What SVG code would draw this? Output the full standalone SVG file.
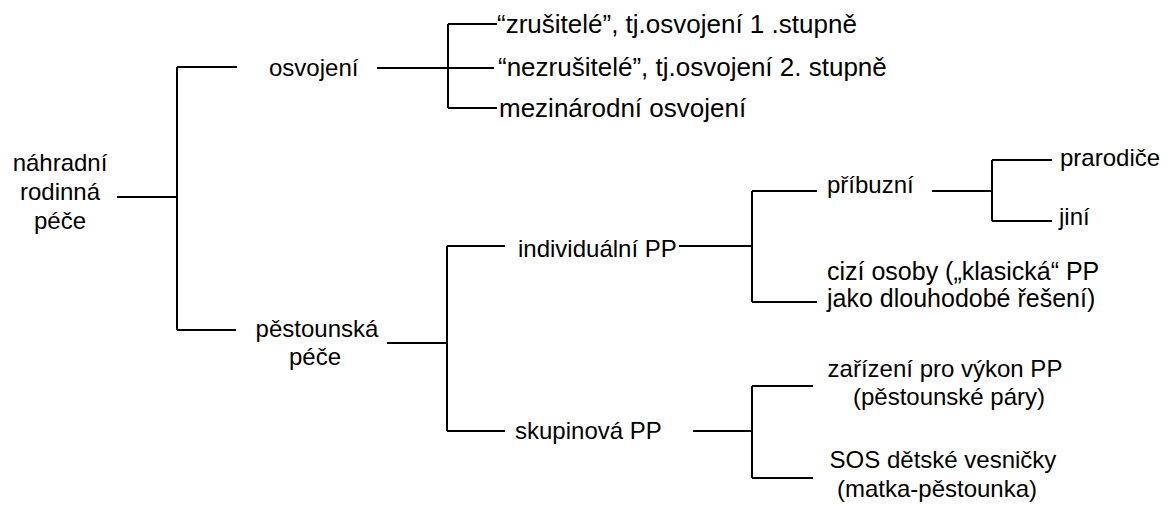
<svg xmlns="http://www.w3.org/2000/svg" width="1169" height="506" viewBox="0 0 1169 506">
<style>
text{font-family:"Liberation Sans",Arial,sans-serif;font-size:24px;fill:#000}
.m{text-anchor:middle}
.b{font-size:26px}
.c{font-size:25px}
#connectors path{fill:none;stroke:#000;stroke-width:2}
</style>
<rect width="1169" height="506" fill="#fff"/>
<g id="connectors">
<path d="M117,197 H177 M177,67 V330 M177,67 H237 M177,330 H236"/>
<path d="M377,68 H494 M448,24 V108 M448,24 H497 M448,108 H497"/>
<path d="M387,343 H447 M447,246 V431 M447,246 H505 M447,431 H505"/>
<path d="M679,246 H752 M752,191 V302 M752,191 H817 M752,302 H817"/>
<path d="M932,191 H992 M992,160 V221 M992,160 H1052 M992,221 H1052"/>
<path d="M693,431 H752 M752,386 V478 M752,386 H813 M752,478 H813"/>
</g>
<g id="n-root"><text class="m" x="60" y="171">náhradní</text><text class="m" x="60" y="200">rodinná</text><text class="m" x="60" y="229">péče</text></g>
<g id="n-osvojeni"><text x="269" y="76">osvojení</text></g>
<g id="n-zrusitele"><text class="b" x="497" y="33">“zrušitelé”, tj.osvojení 1 .stupně</text></g>
<g id="n-nezrusitele"><text class="b" x="498" y="76">“nezrušitelé”, tj.osvojení 2. stupně</text></g>
<g id="n-mezinarodni"><text class="b" x="499" y="117">mezinárodní osvojení</text></g>
<g id="n-pestounska"><text class="m" x="317" y="337">pěstounská</text><text class="m" x="315" y="365">péče</text></g>
<g id="n-individualni"><text x="518" y="257">individuální PP</text></g>
<g id="n-skupinova"><text x="515" y="439">skupinová PP</text></g>
<g id="n-pribuzni"><text x="827" y="193">příbuzní</text></g>
<g id="n-prarodice"><text x="1060" y="166">prarodiče</text></g>
<g id="n-jini"><text x="1059" y="225">jiní</text></g>
<g id="n-cizi"><text class="c" x="827" y="280">cizí osoby („klasická“ PP</text><text class="c" x="827" y="307">jako dlouhodobé řešení)</text></g>
<g id="n-zarizeni"><text class="m" x="945" y="377">zařízení pro výkon PP</text><text class="m" x="949" y="405">(pěstounské páry)</text></g>
<g id="n-sos"><text class="m" x="943" y="468">SOS dětské vesničky</text><text class="m" x="937" y="497">(matka-pěstounka)</text></g>
</svg>
